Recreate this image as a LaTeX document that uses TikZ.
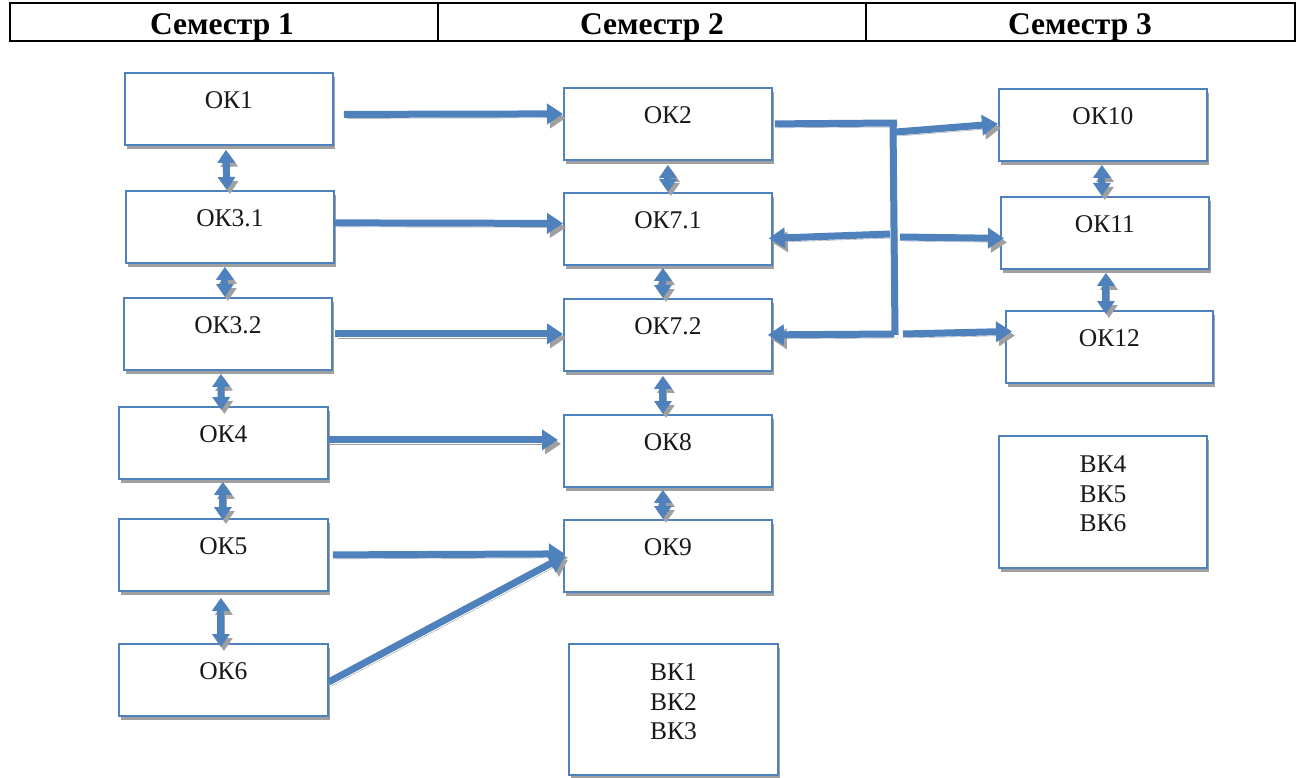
\documentclass[tikz,border=0pt]{standalone}
\usepackage{fontspec}
\setmainfont{Liberation Serif}
\usetikzlibrary{arrows.meta,shadows}
\definecolor{okblue}{RGB}{79,129,189}
\definecolor{shgray}{RGB}{160,160,160}
\begin{document}
\begin{tikzpicture}[x=1pt,y=-1pt,
  okbox/.style={draw=okblue, line width=1.8pt, fill=white, inner sep=0pt,
    anchor=north west, minimum width=208pt, text height=36pt, text depth=36pt,
    font=\fontsize{25.5}{29.5}\selectfont, text=black!90,
    drop shadow={shadow xshift=2pt, shadow yshift=-4pt, fill=shgray, opacity=1}},
  shadowed/.style={preaction={draw=shgray, transform canvas={shift={(3,4)}}}},
  bus/.style={line width=7pt, draw=okblue, shadowed, line join=miter},
  arr/.style={bus, -{Triangle[width=20pt,length=16pt]}},
  darr/.style={bus, {Triangle[width=17pt,length=13pt]}-{Triangle[width=17pt,length=13pt]}},
  hdr/.style={line width=2.6pt, draw=black},
  hdrtxt/.style={font=\bfseries\fontsize{31.5}{36}\selectfont, anchor=base, inner sep=0pt}
]
\useasboundingbox (0,0) rectangle (1300,778);

% header table
\draw[hdr] (10,3) rectangle (1295,41);
\draw[hdr] (438,3) -- (438,41);
\draw[hdr] (866,3) -- (866,41);
\node[hdrtxt] (h1) at (222,35) {Семестр 1};
\node[hdrtxt] (h2) at (652,35) {Семестр 2};
\node[hdrtxt] (h3) at (1080,35) {Семестр 3};

% column 1
\node[okbox] (ok1)  at (124,72)  {ОК1};
\node[okbox] (ok31) at (125,190) {ОК3.1};
\node[okbox] (ok32) at (123,297) {ОК3.2};
\node[okbox, minimum width=209pt] (ok4) at (118,406) {ОК4};
\node[okbox, minimum width=209pt] (ok5) at (118,518) {ОК5};
\node[okbox, minimum width=209pt] (ok6) at (118,643) {ОК6};

% column 2
\node[okbox] (ok2)  at (563,87)  {ОК2};
\node[okbox] (ok71) at (563,192) {ОК7.1};
\node[okbox] (ok72) at (563,298) {ОК7.2};
\node[okbox] (ok8)  at (563,414) {ОК8};
\node[okbox] (ok9)  at (563,519) {ОК9};
\node[okbox, minimum width=209pt, text height=37pt, text depth=94pt] (vk13) at (568,643)
  {\begin{tabular}[t]{@{}c@{}}ВК1\\ВК2\\ВК3\end{tabular}};

% column 3
\node[okbox] (ok10) at (998,88)  {ОК10};
\node[okbox] (ok11) at (1000,196) {ОК11};
\node[okbox, minimum width=207pt] (ok12) at (1005,310) {ОК12};
\node[okbox, text height=37pt, text depth=95pt] (vk46) at (998,435)
  {\begin{tabular}[t]{@{}c@{}}ВК4\\ВК5\\ВК6\end{tabular}};

% horizontal arrows col1 -> col2
\draw[arr] ([shift={(10,5.5)}]ok1.east) -- ([shift={(0,-10)}]ok2.west);
\draw[arr] ([shift={(0,-4)}]ok31.east) -- ([shift={(0,-5.5)}]ok71.west);
\draw[arr] ([shift={(2,0)}]ok32.east) -- ([shift={(0,-1)}]ok72.west);
\draw[arr] ([shift={(-2,-3)}]ok4.east) -- ([shift={(-5,-11)}]ok8.west);
\draw[arr] ([shift={(4,0)}]ok5.east) -- ([shift={(2,-2)}]ok9.west);
\draw[arr] ([shift={(0,2)}]ok6.east) -- ([shift={(2,0)}]ok9.west);

% vertical double arrows col1
\draw[darr] ([shift={(-3,4)}]ok1.south) -- ([shift={(-3,0)}]ok31.north);
\draw[darr] ([shift={(-5,3)}]ok31.south) -- ([shift={(-3,0)}]ok32.north);
\draw[darr] ([shift={(-7,3)}]ok32.south) -- ([shift={(-2,4)}]ok4.north);
\draw[darr] ([shift={(-0.5,2)}]ok4.south) -- ([shift={(-0.5,2)}]ok5.north);
\draw[darr] ([shift={(-2.5,6)}]ok5.south) -- ([shift={(-2.5,4)}]ok6.north);

% vertical double arrows col2
\draw[darr] ([shift={(0,4)}]ok2.south) -- (ok71.north);
\draw[darr] ([shift={(-5,2)}]ok71.south) -- ([shift={(-5,0)}]ok72.north);
\draw[darr] ([shift={(-5,4)}]ok72.south) -- ([shift={(-5,0)}]ok8.north);
\draw[darr] ([shift={(-5,2)}]ok8.south) -- ([shift={(-5,0)}]ok9.north);

% vertical double arrows col3
\draw[darr] ([shift={(-1,3)}]ok10.south) -- ([shift={(-3,0)}]ok11.north);
\draw[darr] ([shift={(1,3)}]ok11.south) -- ([shift={(-3.5,4)}]ok12.north);

% bus
\coordinate (bt) at (893,123);
\coordinate (bb) at (895,335);
\coordinate (b1) at (894,234);
\draw[bus] ([shift={(2,0)}]ok2.east) -- ([shift={(4,0)}]bt);
\draw[bus] (bt) -- (bb);
\draw[arr] ([shift={(3,9)}]bt) -- ([shift={(0,-1)}]ok10.west);
\draw[arr] ([shift={(-4,0)}]b1) -- ([shift={(-4,9.5)}]ok71.east);
\draw[arr] ([shift={(6,3)}]b1) -- ([shift={(4,5.5)}]ok11.west);
\draw[arr] ([shift={(-1,-1)}]bb) -- ([shift={(-5,0)}]ok72.east);
\draw[arr] ([shift={(8,-1)}]bb) -- ([shift={(7,-15.5)}]ok12.west);
\end{tikzpicture}
\end{document}
